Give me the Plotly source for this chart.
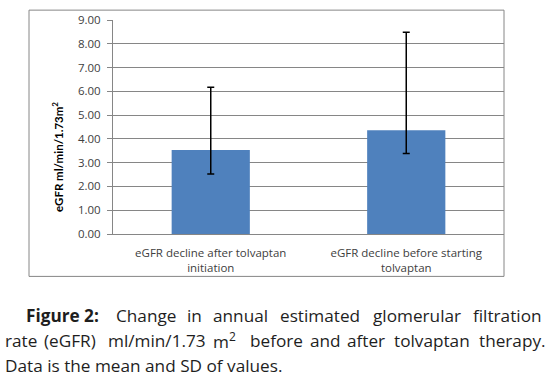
import plotly.graph_objects as go

# ---- data ----
categories = ["eGFR decline after tolvaptan initiation",
              "eGFR decline before starting tolvaptan"]
category_labels = ["eGFR decline after tolvaptan<br>initiation",
                   "eGFR decline before starting<br>tolvaptan"]
mean_values = [3.53, 4.36]
sd_plus = [2.64, 4.13]
sd_minus = [1.01, 0.97]
y_ticks = [0, 1, 2, 3, 4, 5, 6, 7, 8, 9]
y_title = "eGFR ml/min/1.73m<sup>2</sup>"

# caption words with their left-edge pixel positions (justified text)
caption_line1 = [("<b>Figure 2:</b>", 24), ("Change", 114), ("in", 185),
                 ("annual", 211), ("estimated", 278), ("glomerular", 371), ("filtration", 471)]
caption_line2 = [("rate", 3), ("(eGFR)", 42), ("ml/min/1.73", 106), ("m<sup>2</sup>", 211),
                 ("before", 248), ("and", 308), ("after", 345), ("tolvaptan", 392),
                 ("therapy.", 477)]
caption_line3 = "Data is the mean and SD of values."

# ---- layout helpers (pixel -> paper) ----
W, H = 551, 379
PL, PR, PT, PB = 113, 504, 17, 234
def fx(px):
    return (px - PL) / (PR - PL)
def fy(py):
    return (PB - py) / (PB - PT)

GRID = "#868686"
FONT = "Open Sans"
TXT = "#404040"
CAP = "#1e1e1e"
CAP_SIZE = 17.2

fig = go.Figure()
fig.add_trace(go.Bar(
    x=categories, y=mean_values,
    marker=dict(color="#4F81BD", line=dict(width=0)),
    error_y=dict(type="data", symmetric=False, array=sd_plus, arrayminus=sd_minus,
                 color="black", thickness=1.5, width=3.5),
))

fig.update_layout(
    width=W, height=H,
    margin=dict(l=PL, r=W - PR, t=PT, b=H - PB, pad=0),
    paper_bgcolor="white", plot_bgcolor="white",
    showlegend=False, bargap=0.6,
    font=dict(family=FONT, color=TXT),
)
fig.update_xaxes(
    type="category", tickvals=categories, ticktext=category_labels,
    showline=True, linecolor=GRID, linewidth=1, ticks="", ticklabelstandoff=8,
    tickfont=dict(family=FONT, size=11.5, color=TXT),
    showgrid=False, zeroline=False,
)
fig.update_yaxes(
    range=[0, 9], tickvals=y_ticks, tickformat=".2f",
    showgrid=True, gridcolor=GRID, gridwidth=1,
    showline=True, linecolor=GRID, linewidth=1,
    ticks="outside", ticklen=5, tickcolor=GRID, ticklabelstandoff=4,
    tickfont=dict(family=FONT, size=11.5, color=TXT),
    zeroline=False,
)

# outer chart border
fig.add_shape(type="rect", xref="paper", yref="paper",
              x0=fx(29), x1=fx(504), y0=fy(277), y1=fy(7),
              line=dict(color=GRID, width=1), layer="below")

ann = []
ann.append(dict(text="<b>" + y_title + "</b>", xref="paper", yref="paper",
                x=fx(57), y=fy(156), xanchor="center", yanchor="middle",
                textangle=-90, showarrow=False,
                font=dict(family="Lato", size=11.5, color="black")))
for line, ypx in ((caption_line1, 317), (caption_line2, 342)):
    for word, px in line:
        ann.append(dict(text=word, xref="paper", yref="paper", x=fx(px), y=fy(ypx),
                        xanchor="left", yanchor="middle", showarrow=False,
                        font=dict(family=FONT, size=CAP_SIZE, color=CAP)))
ann.append(dict(text=caption_line3, xref="paper", yref="paper", x=fx(3), y=fy(367),
                xanchor="left", yanchor="middle", showarrow=False,
                font=dict(family=FONT, size=CAP_SIZE, color=CAP)))
fig.update_layout(annotations=ann)

fig.write_html("out.html", config={"displayModeBar": False},
               post_script="document.body.style.margin='0';")
